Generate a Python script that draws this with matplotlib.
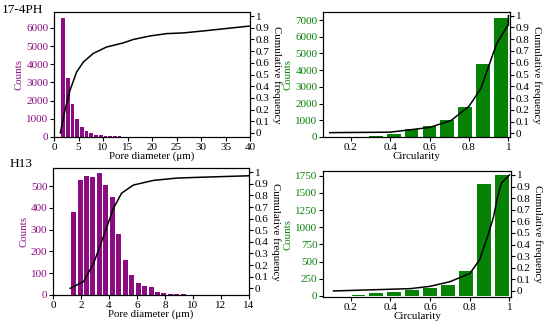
import matplotlib
matplotlib.use("Agg")
import matplotlib.pyplot as plt

plt.rcParams['font.family'] = ['Liberation Serif', 'DejaVu Serif']
plt.rcParams['axes.linewidth'] = 0.8

PURPLE = '#8c0c82'
GREEN = '#078207'

# 17-4PH pore diameter histogram
ph_d_centers = [1.85 + 0.96 * i for i in range(22)]
ph_d_counts = [6550, 3230, 1800, 1010, 550, 330, 210, 130, 90, 70, 55, 42,
               32, 25, 20, 15, 12, 10, 8, 6, 5, 4]
ph_d_cum_x = [1.29, 2.24, 3.27, 4.6, 6.0, 8.0, 10.7, 14.1, 16.2, 19.6, 23.0,
              26.4, 29.8, 33.2, 36.6, 40.0]
ph_d_cum_y = [0.0, 0.194, 0.365, 0.52, 0.607, 0.68, 0.735, 0.77, 0.80, 0.83,
              0.85, 0.856, 0.87, 0.885, 0.90, 0.915]

# 17-4PH circularity
circ_centers = [0.239, 0.329, 0.419, 0.509, 0.6, 0.69, 0.78, 0.87, 0.961]
ph_c_counts = [20, 80, 200, 450, 660, 1020, 1800, 4380, 7150]
ph_c_cum_x = [0.094, 0.4, 0.6, 0.71, 0.8, 0.86, 0.9, 0.94, 0.99, 1.0, 1.0]
ph_c_cum_y = [0.006, 0.01, 0.05, 0.11, 0.23, 0.38, 0.57, 0.76, 0.9, 0.92, 1.0]

# H13 pore diameter histogram
h_d_centers = [1.47 + 0.461 * i for i in range(25)]
h_d_counts = [379, 529, 546, 540, 558, 505, 450, 278, 160, 90, 55, 41, 38,
              12, 8, 4, 3, 3, 2, 2, 2, 2, 1, 2, 1]
h_d_cum_x = [1.23, 2.18, 2.9, 3.6, 4.32, 4.9, 5.74, 7.17, 8.83, 10.5, 14.0]
h_d_cum_y = [0.0, 0.057, 0.215, 0.445, 0.69, 0.82, 0.89, 0.93, 0.95, 0.957,
             0.97]

# H13 circularity
h_c_counts = [12, 44, 63, 83, 117, 155, 360, 1628, 1760]
h_c_cum_x = [0.113, 0.5, 0.6, 0.7, 0.8, 0.85, 0.89, 0.92, 0.94, 0.96, 1.0]
h_c_cum_y = [0.0, 0.02, 0.04, 0.08, 0.15, 0.27, 0.47, 0.64, 0.81, 0.93, 1.0]

W, H = 550, 325
fig = plt.figure(figsize=(5.5, 3.25), dpi=100)


def box(l, t, r, b):
    return [l / W, 1 - b / H, (r - l) / W, (b - t) / H]


def panel(rect, centers, counts, width, color, cx, cy, xlim, ylim, ylim2,
          xticks, yticks, xlabel):
    ax = fig.add_axes(rect)
    ax.bar(centers, counts, width=width, color=color, zorder=2)
    ax.set_xlim(*xlim)
    ax.set_ylim(*ylim)
    ax.set_xticks(xticks)
    ax.set_xticklabels([('%g' % v) for v in xticks])
    ax.set_yticks(yticks)
    ax.tick_params(axis='both', direction='out', length=3, width=0.8,
                   labelsize=8, pad=1)
    ax.tick_params(axis='y', labelcolor=color)
    ax.set_xlabel(xlabel, fontsize=7.8, labelpad=0)
    ax.set_ylabel('Counts', color=color, fontsize=7.8, labelpad=2)
    ax2 = ax.twinx()
    ax2.plot(cx, cy, color='black', lw=1.1, zorder=3)
    ax2.set_ylim(*ylim2)
    ax2.set_yticks([i / 10 for i in range(11)])
    ax2.set_yticklabels(['%g' % (i / 10) for i in range(11)])
    ax2.tick_params(axis='y', direction='out', length=3, width=0.8,
                    labelsize=8, pad=1)
    ax2.set_ylabel('Cumulative frequency', rotation=270, fontsize=7.8,
                   labelpad=9)
    return ax


panel(box(54, 12, 250, 137), ph_d_centers, ph_d_counts, 0.75, PURPLE,
      ph_d_cum_x, ph_d_cum_y, (0, 40), (0, 6880), (-0.035, 1.035),
      range(0, 41, 5), range(0, 6001, 1000), 'Pore diameter (\u03bcm)')

panel(box(323, 12, 510, 137), circ_centers, ph_c_counts, 0.07, GREEN,
      ph_c_cum_x, ph_c_cum_y, (0.06, 1.008), (0, 7480), (-0.031, 1.031),
      [0.2, 0.4, 0.6, 0.8, 1.0], range(0, 7001, 1000), 'Circularity')

panel(box(53, 168, 249, 295), h_d_centers, h_d_counts, 0.36, PURPLE,
      h_d_cum_x, h_d_cum_y, (0, 14), (0, 583), (-0.058, 1.037),
      range(0, 15, 2), range(0, 501, 100), 'Pore diameter (\u03bcm)')

panel(box(323, 171, 511, 297), circ_centers, h_c_counts, 0.07, GREEN,
      h_c_cum_x, h_c_cum_y, (0.06, 1.008), (-15, 1818), (-0.052, 1.034),
      [0.2, 0.4, 0.6, 0.8, 1.0], range(0, 1751, 250), 'Circularity')

fig.text(2 / W, 1 - 10 / H, '17-4PH', fontsize=9.5, va='center')
fig.text(10 / W, 1 - 164 / H, 'H13', fontsize=9.5, va='center')

fig.savefig('out.png', dpi=100)
